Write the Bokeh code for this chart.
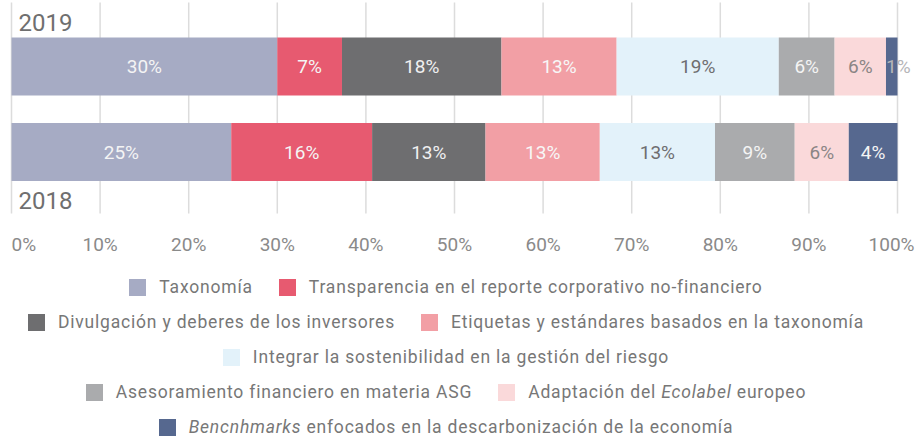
from bokeh.plotting import figure
from bokeh.models import ColumnDataSource, Range1d, Div
from bokeh.layouts import column
from bokeh.embed import file_html
from bokeh.resources import INLINE
from bokeh.core.properties import value

# ---------------- data ----------------
years = ["2019", "2018"]
categories = [
    "Taxonomía",
    "Transparencia en el reporte corporativo no-financiero",
    "Divulgación y deberes de los inversores",
    "Etiquetas y estándares basados en la taxonomía",
    "Integrar la sostenibilidad en la gestión del riesgo",
    "Asesoramiento financiero en materia ASG",
    "Adaptación del Ecolabel europeo",
    "Bencnhmarks enfocados en la descarbonización de la economía",
]
share_2019 = [30.0, 7.3, 18.0, 13.0, 18.3, 6.3, 5.8, 1.3]
share_2018 = [24.8, 15.9, 12.8, 12.9, 13.0, 9.0, 6.1, 5.5]
labels_2019 = ["30%", "7%", "18%", "13%", "19%", "6%", "6%", "1%"]
labels_2018 = ["25%", "16%", "13%", "13%", "13%", "9%", "6%", "4%"]
tick_values = [0, 10, 20, 30, 40, 50, 60, 70, 80, 90, 100]
tick_labels = ["0%", "10%", "20%", "30%", "40%", "50%", "60%", "70%", "80%", "90%", "100%"]
italic_words = ["Ecolabel", "Bencnhmarks"]
legend_rows = [[0, 1], [2, 3], [4], [5, 6], [7]]

# ---------------- styles ----------------
colors = ["#a6abc4", "#e75a70", "#6e6e70", "#f29fa5", "#e3f2fa", "#aaabad", "#fad9da", "#56688f"]
label_colors = ["#f4f4f4", "#f4f4f4", "#f0f0f0", "#f7f7f7", "#6e6e70", "#f4f4f4", "#8a8585", "#f4f4f4"]
FONT = "Roboto"
GRID = "#dcdcdc"
TXT = "#777777"

W, H = 917, 258
X0_PX, X100_PX = 11, 897          # canvas px of 0% and 100%
ppu = (X100_PX - X0_PX) / 100.0
x_start = -X0_PX / ppu
x_end = 100 + (W - X100_PX) / ppu

Y1_PX, Y0_PX = 66, 151.5          # canvas px of bar centres (2019 -> 1, 2018 -> 0)
ypu = Y0_PX - Y1_PX
def yd(px):
    return (Y0_PX - px) / ypu

p = figure(width=W, height=H, output_backend="svg", toolbar_location=None,
           x_range=Range1d(x_start, x_end), y_range=Range1d(yd(H), yd(0)),
           min_border=0, outline_line_color=None)
p.axis.visible = False
p.grid.visible = False
p.background_fill_color = "white"
p.border_fill_color = "white"

# gridlines
p.segment(x0=tick_values, x1=tick_values, y0=[yd(213)] * len(tick_values),
          y1=[yd(2)] * len(tick_values), line_color=GRID, line_width=1.5)

# bars
ys, lefts, rights, cols, labs, lcols, lx, laligns = [], [], [], [], [], [], [], []
for yi, (shares, labels) in enumerate([(share_2019, labels_2019), (share_2018, labels_2018)]):
    yv = 1 - yi
    acc = 0.0
    for i, s in enumerate(shares):
        ys.append(yv)
        lefts.append(acc)
        rights.append(acc + s)
        cols.append(colors[i])
        labs.append(labels[i])
        if s < 3:
            lx.append(acc)
            laligns.append("left")
            lcols.append("#b5b5b8")
        else:
            lx.append(acc + s / 2)
            laligns.append("center")
            lcols.append(label_colors[i])
        acc += s

src = ColumnDataSource(dict(y=ys, left=lefts, right=rights, color=cols,
                            lab=labs, lcol=lcols, lx=lx, lalign=laligns))
p.hbar(y="y", left="left", right="right", height=58 / ypu, color="color",
       line_color=None, source=src)
p.text(x="lx", y="y", text="lab", text_color="lcol", text_align="lalign",
       text_baseline="middle", text_font=value(FONT), text_font_size="19px",
       source=src)

# year labels
p.text(x=[0, 0], y=[yd(22), yd(200)], text=years, x_offset=7,
       text_align="left", text_baseline="middle", text_font=value(FONT),
       text_font_size="24px", text_color="#6f6f6f")

# tick labels
t_align = ["left"] + ["center"] * (len(tick_values) - 2) + ["right"]
t_off = [0] * (len(tick_values) - 1) + [17]
tsrc = ColumnDataSource(dict(x=tick_values, y=[yd(244)] * len(tick_values),
                             t=tick_labels, a=t_align, o=t_off))
p.text(x="x", y="y", text="t", text_align="a", x_offset="o", text_baseline="middle",
       text_font=value(FONT), text_font_size="19px", text_color="#8a8a8a", source=tsrc)

# legend (HTML)
def fmt(name):
    for w in italic_words:
        name = name.replace(w, f"<i>{w}</i>")
    return name

rows_html = []
for r, row in enumerate(legend_rows):
    items = []
    for i in row:
        items.append(
            f'<span style="display:inline-block;width:17px;height:17px;background:{colors[i]};'
            f'vertical-align:-3px;margin-right:13px;"></span>'
            f'<span>{fmt(categories[i])}</span>')
    last = r == len(legend_rows) - 1
    rstyle = ("height:24px;line-height:24px;margin-top:5px;" if last
              else "height:35px;line-height:35px;")
    rows_html.append(f'<div style="{rstyle}white-space:nowrap;">'
                     + '<span style="display:inline-block;width:26px;"></span>'.join(items)
                     + '</div>')
legend = Div(text="".join(rows_html), width=882, height=441 - H,
             styles={"overflow": "visible", "text-align": "center", "font-family": FONT,
                     "font-size": "17.5px", "letter-spacing": "0.8px", "color": TXT,
                     "padding-top": "7px", "box-sizing": "border-box"})

layout = column(p, legend, spacing=0)
open("out.html", "w").write(file_html(layout, INLINE))
